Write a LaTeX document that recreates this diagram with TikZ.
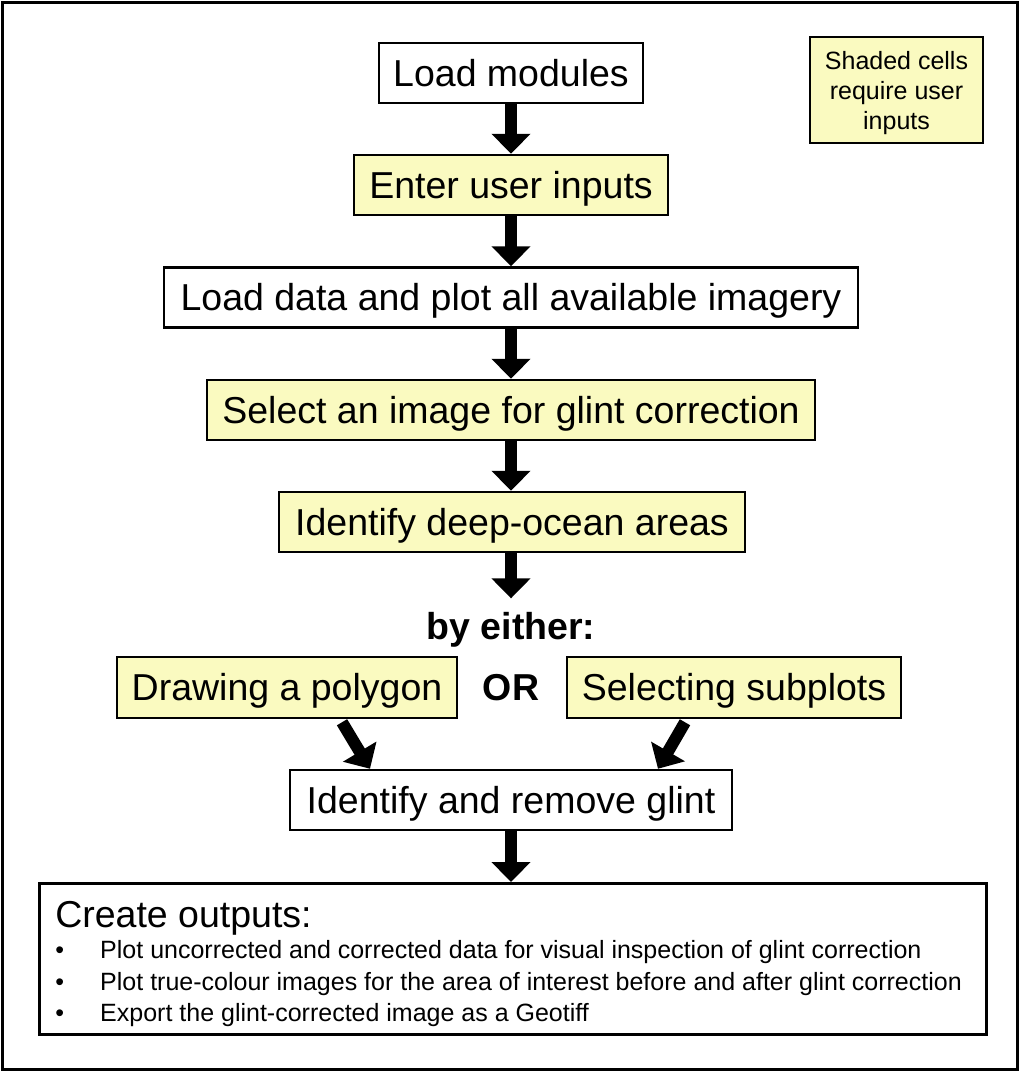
\documentclass[tikz,border=0pt]{standalone}
\usepackage{fontspec}
\setmainfont{Liberation Sans}
\usetikzlibrary{arrows.meta}

\begin{document}
\begin{tikzpicture}[x=1pt, y=-1pt,
    box/.style={draw, line width=2.5pt, minimum height=60pt, inner sep=0pt,
        text height=28pt, text depth=2pt, font=\fontsize{37.5}{45}\selectfont},
    userbox/.style={box, fill=pale_yellow},
    label/.style={inner sep=0pt, font=\bfseries\fontsize{37.5}{45}\selectfont},
    bigarrow/.style={line width=12pt, -{Triangle[width=38pt, length=20pt]}}]
    \definecolor{pale_yellow}{RGB}{250, 250, 192}
    \def\bul{\makebox[45pt][l]{\textbullet}}

    \useasboundingbox (0,0) rectangle (1019,1071);
    \fill[white] (0,0) rectangle (1019,1071);
    % outer frame
    \draw[line width=3pt] (2,2) rectangle (1017,1069);

    % main column of steps
    \node[box, minimum width=264pt] (load) at (511,73) {Load modules};
    \node[userbox, minimum width=314pt] (inputs) at (511,185) {Enter user inputs};
    \node[box, minimum width=694pt] (data) at (511,297.5) {Load data and plot all available imagery};
    \node[userbox, minimum width=608pt] (select) at (511,410) {Select an image for glint correction};
    \node[userbox, minimum width=466pt] (deep) at (512,522) {Identify deep-ocean areas};
    \node[label] (either) at (511,629.5) {by either:};

    % the two ways
    \node[userbox, minimum width=340pt, minimum height=61pt] (polygon) at (287,687.5) {Drawing a polygon};
    \node[label] (or) at (511,688) {OR};
    \node[userbox, minimum width=334pt, minimum height=61pt] (subplots) at (734,687.5) {Selecting subplots};

    \node[box, minimum width=442pt] (glint) at (511,800) {Identify and remove glint};

    % outputs
    \node[draw, line width=2.5pt, anchor=north west, minimum width=947pt, minimum height=151pt,
        inner xsep=16pt, inner ysep=4pt, text width=915pt, align=flush left] (outputs) at (38,882)
        {{\fontsize{37.5}{40}\selectfont\rule{0pt}{37pt}Create outputs:}\\
         \fontsize{25}{31.5}\selectfont
         \bul Plot uncorrected and corrected data for visual inspection of glint correction\\
         \bul Plot true-colour images for the area of interest before and after glint correction\\
         \bul Export the glint-corrected image as a Geotiff\par};

    % key
    \node[draw, line width=2.5pt, fill=pale_yellow, minimum width=173pt, minimum height=106pt,
        text depth=0pt, align=center, font=\fontsize{25}{30}\selectfont] (key) at (896.5,90)
        {Shaded cells\\require user\\inputs};

    % arrows
    \draw[bigarrow] (load.south) -- (inputs.north);
    \draw[bigarrow] (inputs.south) -- (data.north);
    \draw[bigarrow] (data.south) -- (select.north);
    \draw[bigarrow] (select.south) -- ([xshift=-1pt]deep.north);
    \draw[bigarrow] ([xshift=-1pt]deep.south) -- ([yshift=13.5pt]either.north);
    \draw[bigarrow] ([xshift=55pt, yshift=-3pt]polygon.south) -- ([xshift=-141pt]glint.north);
    \draw[bigarrow] ([xshift=-49pt, yshift=-3pt]subplots.south) -- ([xshift=147pt]glint.north);
    \draw[bigarrow] (glint.south) -- (glint.south |- outputs.north);
\end{tikzpicture}
\end{document}
